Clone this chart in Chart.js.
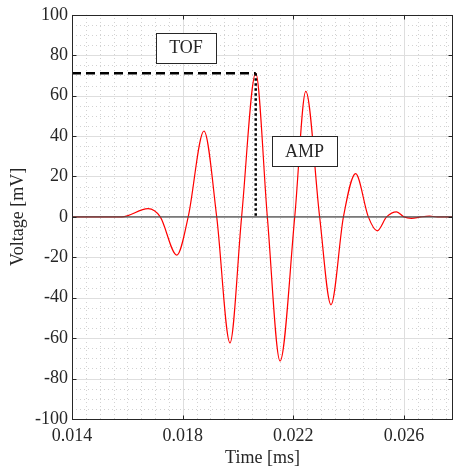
<!DOCTYPE html>
<html>
<head>
<meta charset="utf-8">
<script src="https://cdn.jsdelivr.net/npm/chart.js@4/dist/chart.umd.min.js"></script>
<style>
  html, body { margin: 0; padding: 0; background: #fff; }
  #wrap { width: 454px; height: 469px; }
</style>
</head>
<body>
<div id="wrap"><canvas id="chart" width="454" height="469"></canvas></div>
<script>
/* ---- data ---- */
const timeMs = [0.0140, 0.0150, 0.0158, 0.01675, 0.01719, 0.01779, 0.0182, 0.01877, 0.01923, 0.01971,
                0.02013, 0.02064, 0.02106, 0.02152, 0.02205, 0.02245, 0.02295, 0.02336, 0.02381, 0.02425,
                0.02471, 0.02503, 0.02537, 0.02573, 0.02600, 0.02627, 0.02660, 0.02692, 0.02720, 0.02777];
const voltageMv = [0, 0, 0, 4.1, 0, -18.9, 0, 42.5, 0, -62.3,
                   0, 71.1, 0, -71.3, 0, 62.1, 0, -43.5, 0, 21.4,
                   0, -6.9, 0, 2.5, 0, -0.7, 0, 0.4, 0, 0];
const tofTime  = 0.02064;
const ampValue = 71.1;

const xRange = [0.014, 0.02777];
const yRange = [-100, 100];
const xTicks = [0.014, 0.018, 0.022, 0.026];
const yTicks = [-100, -80, -60, -40, -20, 0, 20, 40, 60, 80, 100];
const xMinorStep = 0.0005;
const yMinorStep = 5;

const FONT = 'Liberation Serif';
const INK  = '#262626';

const labels = [
  { text: 'TOF', x: 0.01812, y: 83.8 },
  { text: 'AMP', x: 0.02240, y: 32.4 },
];

// grid, box, ticks, text boxes
const frame = {
  id: 'frame',
  beforeDatasetsDraw(chart) {
    const { ctx, chartArea: a, scales: { x, y } } = chart;
    ctx.save();
    ctx.lineWidth = 1;
    // minor dotted grid
    ctx.strokeStyle = '#d2d2d2';
    ctx.setLineDash([1, 3]);
    const nx = Math.round((xRange[1] - xRange[0]) / xMinorStep);
    for (let i = 1; i <= nx; i++) {
      const px = Math.round(x.getPixelForValue(xRange[0] + i * xMinorStep)) + 0.5;
      ctx.beginPath(); ctx.moveTo(px, a.bottom); ctx.lineTo(px, a.top); ctx.stroke();
    }
    const ny = Math.round((yRange[1] - yRange[0]) / yMinorStep);
    for (let i = 1; i < ny; i++) {
      const py = Math.round(y.getPixelForValue(yRange[0] + i * yMinorStep)) + 0.5;
      ctx.beginPath(); ctx.moveTo(a.left, py); ctx.lineTo(a.right, py); ctx.stroke();
    }
    // major solid grid
    ctx.setLineDash([]);
    ctx.strokeStyle = '#dedede';
    xTicks.forEach(v => {
      const px = Math.round(x.getPixelForValue(v)) + 0.5;
      ctx.beginPath(); ctx.moveTo(px, a.bottom); ctx.lineTo(px, a.top); ctx.stroke();
    });
    yTicks.forEach(v => {
      const py = Math.round(y.getPixelForValue(v)) + 0.5;
      ctx.beginPath(); ctx.moveTo(a.left, py); ctx.lineTo(a.right, py); ctx.stroke();
    });
    ctx.restore();
  },
  afterDatasetsDraw(chart) {
    const { ctx, chartArea: a, scales: { x, y } } = chart;
    ctx.save();
    ctx.strokeStyle = INK;
    ctx.lineWidth = 1;
    const L = Math.round(a.left) + 0.5, R = Math.round(a.right) - 0.5;
    const T = Math.round(a.top) + 0.5, B = Math.round(a.bottom) + 0.5;
    ctx.strokeRect(L, T, R - L, B - T);
    const tl = 4;
    xTicks.forEach(v => {
      const px = Math.round(x.getPixelForValue(v)) + 0.5;
      ctx.beginPath();
      ctx.moveTo(px, B); ctx.lineTo(px, B - tl);
      ctx.moveTo(px, T); ctx.lineTo(px, T + tl);
      ctx.stroke();
    });
    yTicks.forEach(v => {
      const py = Math.round(y.getPixelForValue(v)) + 0.5;
      ctx.beginPath();
      ctx.moveTo(L, py); ctx.lineTo(L + tl, py);
      ctx.moveTo(R, py); ctx.lineTo(R - tl, py);
      ctx.stroke();
    });
    // text boxes
    ctx.font = `18px "${FONT}"`;
    ctx.textAlign = 'center';
    ctx.textBaseline = 'middle';
    labels.forEach(l => {
      const cx = x.getPixelForValue(l.x), cy = y.getPixelForValue(l.y);
      const w = ctx.measureText(l.text).width + 26, h = 30;
      const bx = Math.round(cx - w / 2) + 0.5, by = Math.round(cy - h / 2) + 0.5;
      ctx.fillStyle = '#fff';
      ctx.fillRect(bx, by, Math.round(w), h);
      ctx.strokeRect(bx, by, Math.round(w), h);
      ctx.fillStyle = INK;
      ctx.fillText(l.text, cx, cy + 1);
    });
    ctx.restore();
  }
};

new Chart(document.getElementById('chart'), {
  type: 'line',
  data: {
    datasets: [
      {
        label: 'zero',
        data: [{ x: xRange[0], y: 0 }, { x: xRange[1], y: 0 }],
        borderColor: '#4d4d4d', borderWidth: 1.3, pointRadius: 0, order: 3
      },
      {
        label: 'signal',
        data: timeMs.map((t, i) => ({ x: t, y: voltageMv[i] })),
        borderColor: '#ff0000', borderWidth: 1.2, pointRadius: 0,
        cubicInterpolationMode: 'monotone', order: 4
      },
      {
        label: 'TOF',
        data: [{ x: xRange[0], y: ampValue }, { x: tofTime, y: ampValue }],
        borderColor: '#000', borderWidth: 2.5, borderDash: [9, 5], pointRadius: 0, order: 2
      },
      {
        label: 'AMP',
        data: [{ x: tofTime, y: ampValue }, { x: tofTime, y: 0 }],
        borderColor: '#000', borderWidth: 2.5, borderDash: [2.5, 2.5], pointRadius: 0, order: 1
      }
    ]
  },
  options: {
    responsive: false,
    animation: false,
    devicePixelRatio: 1,
    layout: { padding: { top: 14, right: 1, left: 0, bottom: 0 } },
    plugins: { legend: { display: false }, tooltip: { enabled: false } },
    scales: {
      x: {
        type: 'linear', min: xRange[0], max: xRange[1],
        afterBuildTicks: s => { s.ticks = xTicks.map(v => ({ value: v })); },
        afterFit: s => { s.height = 50; },
        grid: { display: false, drawTicks: false },
        border: { display: false },
        ticks: {
          color: INK, font: { family: FONT, size: 18 }, padding: 6,
          maxRotation: 0, autoSkip: false, callback: v => v.toFixed(3)
        },
        title: {
          display: true, text: 'Time [ms]', color: INK,
          font: { family: FONT, size: 18 }, padding: { top: 0, bottom: 0 }
        }
      },
      y: {
        min: yRange[0], max: yRange[1],
        afterBuildTicks: s => { s.ticks = yTicks.map(v => ({ value: v })); },
        afterFit: s => { s.width = 72; },
        grid: { display: false, drawTicks: false },
        border: { display: false },
        ticks: { color: INK, font: { family: FONT, size: 18 }, padding: 4 },
        title: {
          display: true, text: 'Voltage [mV]', color: INK,
          font: { family: FONT, size: 18 }, padding: { top: 7, bottom: 0 }
        }
      }
    }
  },
  plugins: [frame]
});
</script>
</body>
</html>
